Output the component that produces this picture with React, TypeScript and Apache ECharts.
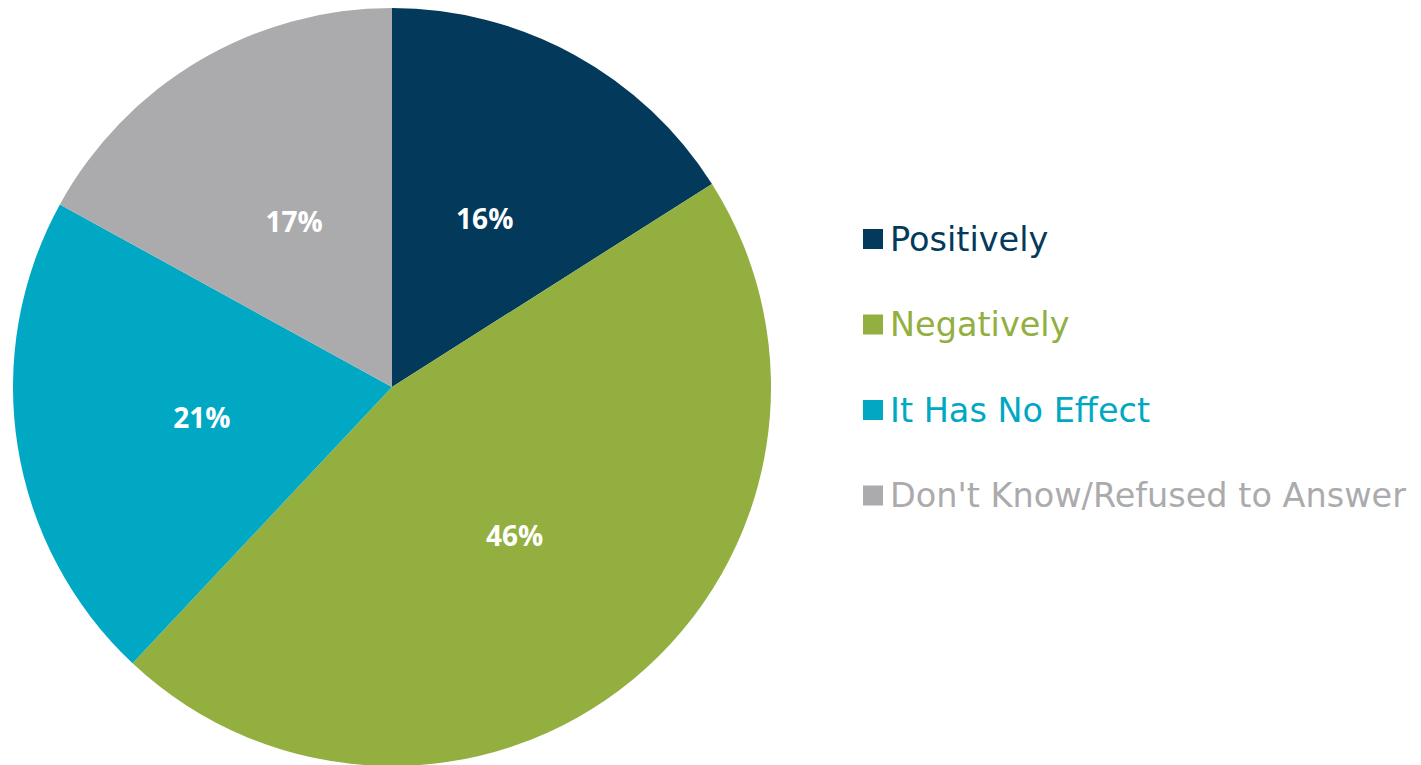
import React, { useEffect, useRef } from "react";
import * as echarts from "echarts";

const categories = ["Positively", "Negatively", "It Has No Effect", "Don't Know/Refused to Answer"];
const values = [16, 46, 21, 17];
const colors = ["#033A5C", "#92AF40", "#00A8C3", "#ABABAD"];

export default function App() {
  const ref = useRef<HTMLDivElement>(null);
  useEffect(() => {
    document.body.style.margin = "0";
    const chart = echarts.init(ref.current!, null, { renderer: "svg" });
    chart.setOption({
      animation: false,
      backgroundColor: "#ffffff",
      legend: {
        orient: "vertical",
        left: 858,
        top: 214,
        itemWidth: 20,
        itemHeight: 20,
        itemGap: 45.5,
        icon: "rect",
        selectedMode: false,
        data: categories.map((c, i) => ({
          name: c,
          itemStyle: { color: colors[i] },
          textStyle: { color: colors[i] },
        })),
        textStyle: {
          fontFamily: "DejaVu Sans",
          fontSize: 33.5,
          lineHeight: 40,
          padding: [0, 0, 0, 2],
        },
      },
      series: [
        {
          type: "pie",
          center: [392, 387],
          radius: 379,
          startAngle: 90,
          clockwise: true,
          data: categories.map((c, i) => ({
            name: c,
            value: values[i],
            itemStyle: { color: colors[i] },
          })),
          itemStyle: { borderWidth: 0 },
          label: {
            show: true,
            position: "inside",
            formatter: "{c}%",
            color: "#ffffff",
            fontFamily: "Open Sans",
            fontWeight: "bold",
            fontSize: 28,
          },
          labelLine: { show: false },
          emphasis: { disabled: true },
        },
      ],
    });
    return () => chart.dispose();
  }, []);
  return <div ref={ref} style={{ position: "fixed", left: 0, top: 0, width: 1421, height: 765 }} />;
}
